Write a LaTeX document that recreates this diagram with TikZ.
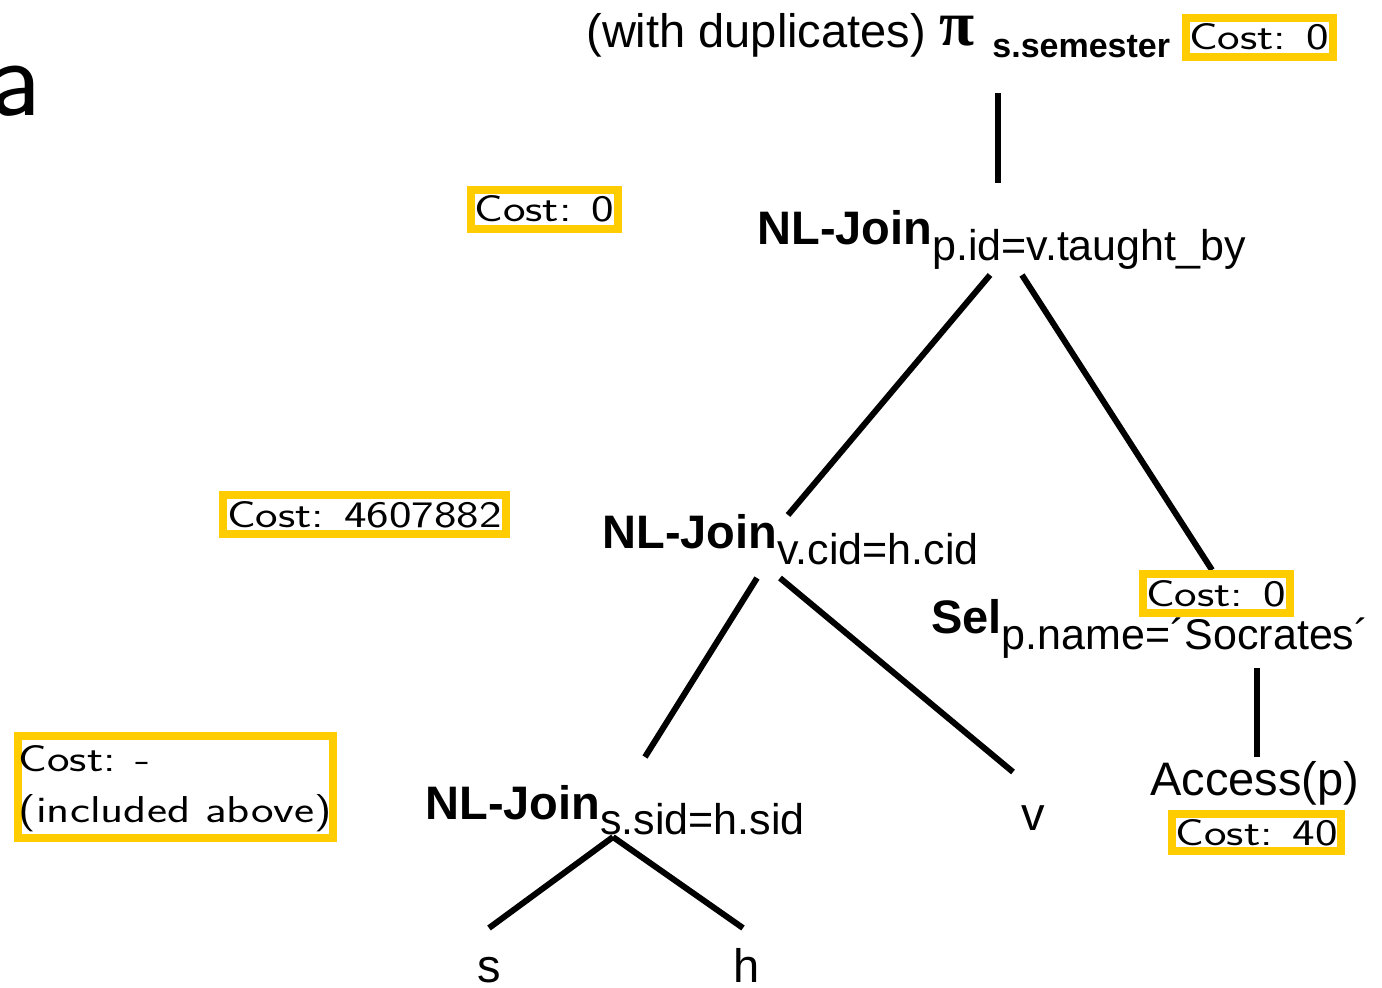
\documentclass[tikz,border=0pt]{standalone}
\usepackage{fontspec}
\usepackage{graphicx}
\setmainfont{Liberation Sans}
\newfontfamily\pifont{Liberation Serif}
\definecolor{costyellow}{RGB}{255,204,0}
% cost annotations: sans serif, slightly widened
\newcommand\costfont{\sffamily\fontsize{18.7}{25.5}\selectfont}
\newcommand\costtext[1]{\scalebox{1.28}[1]{\costfont #1}}
\newcommand\subfont{\fontsize{21.5}{24}\selectfont}
\begin{document}
\begin{tikzpicture}[x=0.5pt,y=-0.5pt,
  lbl/.style={inner sep=0pt, anchor=base west, font=\fontsize{23.5}{28}\selectfont},
  costbox/.style={draw=costyellow, line width=4pt, fill=white, inner sep=0pt,
    minimum width=73.5pt, minimum height=19.5pt},
  treeedge/.style={line width=3pt}]
\useasboundingbox (0,0) rectangle (1382,987);

% stray letter at the left margin
\node[inner sep=0pt, anchor=base east, font=\sffamily\fontsize{56}{56}\selectfont] (ltr) at (41,115) {a};

% operator labels
\node[lbl] (proj) at (586,47) {(with duplicates)};
\node[inner sep=0pt, anchor=base west, font=\pifont\bfseries\fontsize{32}{32}\selectfont] (pi) at (939,45) {π};
\node[inner sep=0pt, anchor=base west, font=\bfseries\fontsize{17}{17}\selectfont] (projsub) at (992,57) {s.semester};
\node[lbl] (j1) at (757,244) {\textbf{NL-Join}\raisebox{-8pt}{\subfont p.id=v.taught\_by}};
\node[lbl] (j2) at (602,548) {\textbf{NL-Join}\raisebox{-8pt}{\subfont v.cid=h.cid}};
\node[lbl] (sel) at (931,633) {\textbf{Sel}\raisebox{-8pt}{\subfont p.name=´Socrates´}};
\node[lbl] (acc) at (1150,795) {Access(p)};
\node[lbl] (v) at (1021,830) {v};
\node[lbl] (j3) at (425,819) {\textbf{NL-Join}\raisebox{-7.5pt}{\subfont s.sid=h.sid}};
\node[lbl] (s) at (477,982) {s};
\node[lbl] (h) at (733,982) {h};

% edge end points
\coordinate (projdown) at (998,93);
\coordinate (j1up) at (998,183);
\coordinate (j1l) at (990,275);
\coordinate (j1r) at (1022,275);
\coordinate (j2up) at (788,515);
\coordinate (selup) at (1212,570);
\coordinate (j2l) at (757,578);
\coordinate (j2r) at (780,578);
\coordinate (j3up) at (645,757);
\coordinate (vup) at (1013,772);
\coordinate (seldown) at (1257,668);
\coordinate (accup) at (1257,757);
\coordinate (j3down) at (613,837);
\coordinate (sup) at (489,928);
\coordinate (hup) at (743,928);

% tree edges
\draw[treeedge] (projdown) -- (j1up);
\draw[treeedge] (j1l) -- (j2up);
\draw[treeedge] (j1r) -- (selup);
\draw[treeedge] (j2l) -- (j3up);
\draw[treeedge] (j2r) -- (vup);
\draw[treeedge] (seldown) -- (accup);
\draw[treeedge] (j3down) -- (sup);
\draw[treeedge] (j3down) -- (hup);

% cost annotations
\node[costbox] (c1) at (1259,37) {\costtext{Cost: 0}};
\node[costbox] (c2) at (544.3,209) {\costtext{Cost: 0}};
\node[costbox, minimum width=141.5pt] (c3) at (364.5,514.5) {\costtext{Cost: 4607882}};
\node[costbox, minimum width=157.5pt, minimum height=47.5pt] (c4) at (175.3,786.7)
  {\scalebox{1.28}[1]{\costfont\begin{tabular}{@{}l@{}}Cost: -\\(included above)\end{tabular}}};
\node[costbox] (c5) at (1216,593.5) {\costtext{Cost: 0}};
\node[costbox, minimum width=84.5pt, minimum height=18.5pt] (c6) at (1256.7,832.5) {\costtext{Cost: 40}};
\end{tikzpicture}
\end{document}
